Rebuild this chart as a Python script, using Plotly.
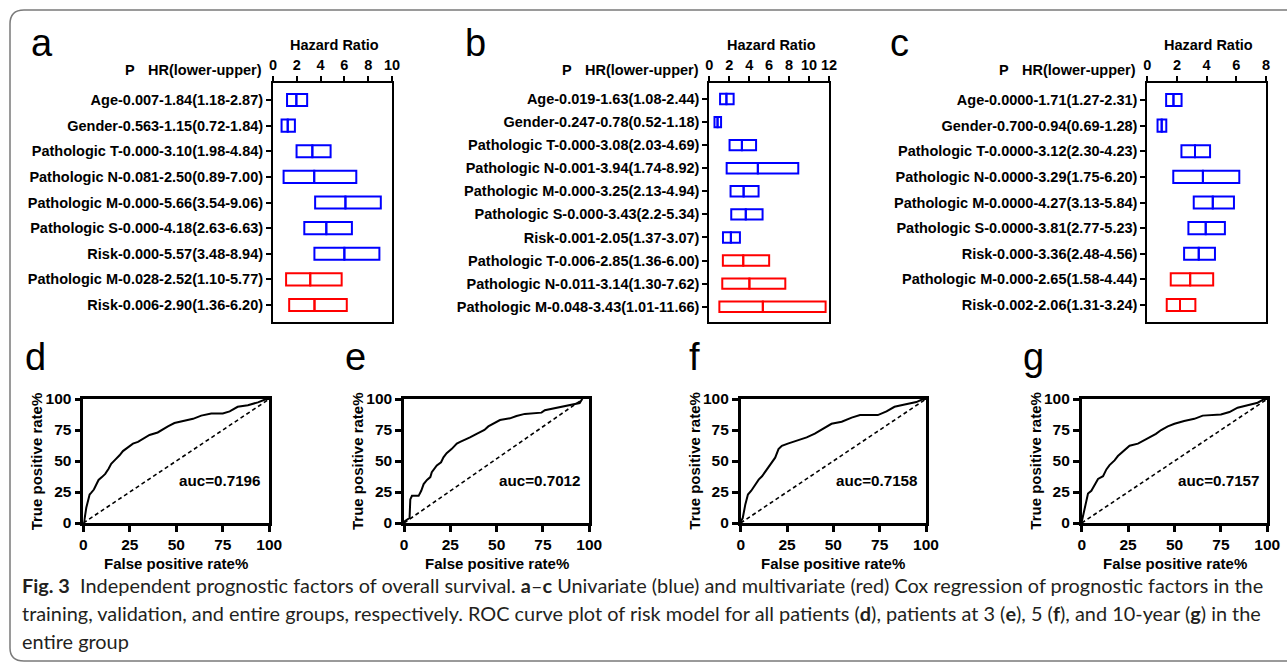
import plotly.graph_objects as go

W, H = 1287, 666
FONT = "Liberation Sans, Arial, sans-serif"
CAP_FONT = "Lato, Noto Sans, sans-serif"
BLUE = "#0000ff"
RED = "#ff0000"

# ---------------- Panel a (training group) ----------------
a_names = ["Age", "Gender", "Pathologic T", "Pathologic N", "Pathologic M",
           "Pathologic S", "Risk", "Pathologic M", "Risk"]
a_p = ["0.007", "0.563", "0.000", "0.081", "0.000", "0.000", "0.000", "0.028", "0.006"]
a_hr = ["1.84", "1.15", "3.10", "2.50", "5.66", "4.18", "5.57", "2.52", "2.90"]
a_lo = ["1.18", "0.72", "1.98", "0.89", "3.54", "2.63", "3.48", "1.10", "1.36"]
a_hi = ["2.87", "1.84", "4.84", "7.00", "9.06", "6.63", "8.94", "5.77", "6.20"]
a_model = ["uni", "uni", "uni", "uni", "uni", "uni", "uni", "multi", "multi"]

# ---------------- Panel b (validation group) ----------------
b_names = ["Age", "Gender", "Pathologic T", "Pathologic N", "Pathologic M",
           "Pathologic S", "Risk", "Pathologic T", "Pathologic N", "Pathologic M"]
b_p = ["0.019", "0.247", "0.000", "0.001", "0.000", "0.000", "0.001", "0.006", "0.011", "0.048"]
b_hr = ["1.63", "0.78", "3.08", "3.94", "3.25", "3.43", "2.05", "2.85", "3.14", "3.43"]
b_lo = ["1.08", "0.52", "2.03", "1.74", "2.13", "2.2", "1.37", "1.36", "1.30", "1.01"]
b_hi = ["2.44", "1.18", "4.69", "8.92", "4.94", "5.34", "3.07", "6.00", "7.62", "11.66"]
b_model = ["uni", "uni", "uni", "uni", "uni", "uni", "uni", "multi", "multi", "multi"]

# ---------------- Panel c (entire group) ----------------
c_names = ["Age", "Gender", "Pathologic T", "Pathologic N", "Pathologic M",
           "Pathologic S", "Risk", "Pathologic M", "Risk"]
c_p = ["0.0000", "0.700", "0.0000", "0.0000", "0.0000", "0.0000", "0.000", "0.000", "0.002"]
c_hr = ["1.71", "0.94", "3.12", "3.29", "4.27", "3.81", "3.36", "2.65", "2.06"]
c_lo = ["1.27", "0.69", "2.30", "1.75", "3.13", "2.77", "2.48", "1.58", "1.31"]
c_hi = ["2.31", "1.28", "4.23", "6.20", "5.84", "5.23", "4.56", "4.44", "3.24"]
c_model = ["uni", "uni", "uni", "uni", "uni", "uni", "uni", "multi", "multi"]

hr_ticks_a = [0, 2, 4, 6, 8, 10]
hr_ticks_b = [0, 2, 4, 6, 8, 10, 12]
hr_ticks_c = [0, 2, 4, 6, 8]

# ---------------- ROC curves (%) ----------------
d_fpr = [0, 0.4, 1.6, 3.4, 4.3, 5.7, 7.0, 8.2, 10.0, 11.8, 13.6, 15.0, 16.8, 18.6, 19.5, 21.3,
         24.0, 26.7, 29.4, 33.0, 35.6, 40.0, 42.8, 45.5, 49.0, 54.5, 59.0, 63.4, 68.8, 75.0,
         78.7, 83.0, 88.5, 93.9, 98.4, 100]
d_tpr = [0, 0.5, 12.3, 23.0, 24.5, 27.0, 31.0, 34.7, 37.0, 39.6, 43.7, 47.8, 50.5, 53.0, 54.6, 58.0,
         61.0, 64.0, 65.4, 68.3, 71.0, 73.0, 75.7, 78.0, 80.6, 82.8, 84.0, 86.6, 88.3, 88.3,
         90.0, 93.7, 95.0, 97.3, 100, 100]

e_fpr = [0, 2.2, 3.0, 3.4, 4.3, 7.9, 9.3, 10.6, 12.4, 14.2, 15.0, 17.7, 20.0, 21.3, 23.0, 25.8,
         28.5, 30.3, 33.0, 35.6, 39.2, 43.4, 45.5, 48.2, 51.8, 57.2, 60.7, 65.2, 74.2, 76.0,
         81.4, 86.8, 90.3, 94.8, 96.2]
e_tpr = [1.0, 3.5, 4.0, 19.0, 21.9, 21.9, 26.0, 31.4, 34.7, 37.0, 41.0, 46.4, 49.0, 53.0, 56.3, 59.8,
         64.0, 65.4, 67.0, 69.0, 71.9, 75.0, 77.9, 80.0, 83.0, 84.4, 86.3, 88.0, 89.0, 91.0,
         92.6, 94.0, 95.4, 96.7, 100]

f_fpr = [0, 1.1, 2.5, 3.9, 5.7, 7.9, 9.7, 11.5, 14.2, 16.8, 18.6, 20.4, 22.2, 25.8, 31.2, 35.6,
         40.0, 44.6, 49.0, 54.5, 59.9, 64.4, 74.0, 78.7, 83.0, 88.5, 94.8, 98.4, 100]
f_tpr = [1.0, 4.0, 15.0, 23.0, 26.0, 31.0, 35.0, 37.7, 43.2, 48.6, 52.7, 59.6, 62.3, 64.2, 67.0, 69.0,
         72.0, 76.0, 80.0, 81.7, 85.0, 87.0, 87.0, 90.0, 93.7, 95.6, 97.5, 100, 100]

g_fpr = [0, 1.6, 3.4, 5.2, 7.0, 8.8, 11.5, 13.3, 15.0, 17.7, 19.5, 22.2, 25.8, 30.3, 34.8, 40.0,
         42.8, 46.4, 50.0, 55.2, 60.7, 65.2, 75.0, 79.6, 84.0, 89.4, 94.8, 98.4, 100]
g_tpr = [0.8, 12.3, 23.8, 26.0, 31.4, 35.5, 37.7, 43.2, 46.7, 50.5, 54.0, 57.6, 62.3, 64.0, 67.7, 71.9,
         75.0, 77.9, 80.0, 82.3, 84.0, 86.6, 87.5, 89.5, 93.0, 95.0, 97.0, 100, 100]

d_diag = [0, 100]
e_diag_x = [0, 96.5]
e_diag_y = [0, 100]
auc_values = ["0.7196", "0.7012", "0.7158", "0.7157"]
roc_ticks = [0, 25, 50, 75, 100]


def xd(x0, x1):
    return [x0 / W, x1 / W]


def yd(y0, y1):
    return [1 - y1 / H, 1 - y0 / H]


def px(x):
    return x / W


def py(y):
    return 1 - y / H


fig = go.Figure()
layout = dict(
    template="none",
    width=W, height=H, autosize=False,
    margin=dict(l=0, r=0, t=0, b=0, pad=0, autoexpand=False),
    paper_bgcolor="white", plot_bgcolor="white",
    showlegend=False, barmode="overlay",
)
annotations = []
shapes = []

forest = [
    # data, x-domain px, ticks, bar width, pad top, pad bottom
    ((a_names, a_p, a_hr, a_lo, a_hi, a_model), (273, 392), hr_ticks_a, 0.47, 0.664, 0.664),
    ((b_names, b_p, b_hr, b_lo, b_hi, b_model), (709.3, 829), hr_ticks_b, 0.45, 0.693, 0.663),
    ((c_names, c_p, c_hr, c_lo, c_hi, c_model), (1147.3, 1266), hr_ticks_c, 0.47, 0.664, 0.664),
]
hr_label_right = [264, 700.7, 1137.7]
p_label_x = [130, 566.7, 1004]
letters_top = [("a", 41.5), ("b", 475), ("c", 899.5)]

for i, (data, (x0, x1), ticks, bw, pt, pb) in enumerate(forest):
    names, ps, hrs, los, his, models = data
    n = len(names)
    labels = [f"{nm}-{p}-{h}({lo}-{hi})" for nm, p, h, lo, hi in zip(names, ps, hrs, los, his)]
    lo_v = [float(v) for v in los]
    hr_v = [float(v) for v in hrs]
    hi_v = [float(v) for v in his]
    mid_v = [(a + b + c) / 3 for a, b, c in zip(lo_v, hr_v, hi_v)]
    cols = [BLUE if m == "uni" else RED for m in models]
    k = "" if i == 0 else str(i + 1)
    xa, ya = "x" + k, "y" + k
    fig.add_trace(go.Bar(
        y=labels, x=[m - l for m, l in zip(mid_v, lo_v)], base=lo_v, orientation="h",
        width=bw, marker=dict(color="rgba(0,0,0,0)", line=dict(color=cols, width=2)),
        xaxis=xa, yaxis=ya, hoverinfo="skip"))
    fig.add_trace(go.Bar(
        y=labels, x=[h - m for h, m in zip(hi_v, mid_v)], base=mid_v, orientation="h",
        width=bw, marker=dict(color="rgba(0,0,0,0)", line=dict(color=cols, width=2)),
        xaxis=xa, yaxis=ya, hoverinfo="skip"))
    layout["xaxis" + k] = dict(
        domain=xd(x0, x1), anchor=ya, side="top", range=[ticks[0], ticks[-1]],
        tickvals=ticks, ticks="outside", ticklen=5, tickwidth=2, tickcolor="black",
        showline=True, linewidth=2, linecolor="black", mirror=True, automargin=False,
        showgrid=False, zeroline=False,
        tickfont=dict(family=FONT, size=14.5, color="black", weight="bold"))
    layout["yaxis" + k] = dict(
        domain=yd(83, 322), anchor=xa, type="category",
        categoryorder="array", categoryarray=labels,
        range=[n - 1 + pb, -pt], automargin=False,
        ticks="outside", ticklen=5, tickwidth=2, tickcolor="black",
        showline=True, linewidth=2, linecolor="black", mirror=True,
        showgrid=False, zeroline=False,
        tickfont=dict(family=FONT, size=14.5, color="black", weight="bold"))
    annotations.append(dict(text="Hazard Ratio", x=px((x0 + x1) / 2 + 2), y=py(45),
                            xref="paper", yref="paper", showarrow=False,
                            xanchor="center", yanchor="middle",
                            font=dict(family=FONT, size=14.5, color="black", weight="bold")))
    annotations.append(dict(text="HR(lower-upper)", x=px(hr_label_right[i]), y=py(70),
                            xref="paper", yref="paper", showarrow=False,
                            xanchor="right", yanchor="middle",
                            font=dict(family=FONT, size=14.5, color="black", weight="bold")))
    annotations.append(dict(text="P", x=px(p_label_x[i]), y=py(70),
                            xref="paper", yref="paper", showarrow=False,
                            xanchor="center", yanchor="middle",
                            font=dict(family=FONT, size=14.5, color="black", weight="bold")))
    lt, lx = letters_top[i]
    annotations.append(dict(text=lt, x=px(lx), y=py(43), xref="paper", yref="paper",
                            showarrow=False, xanchor="center", yanchor="middle",
                            font=dict(family=FONT, size=38, color="black")))

roc = [
    (d_fpr, d_tpr, d_diag, d_diag, (83.3, 269.3), "d", 35.5),
    (e_fpr, e_tpr, e_diag_x, e_diag_y, (404, 589.3), "e", 355.5),
    (f_fpr, f_tpr, d_diag, d_diag, (740.7, 926), "f", 694),
    (g_fpr, g_tpr, d_diag, d_diag, (1081.7, 1267.3), "g", 1033),
]
auc_cx = [220.2, 540.3, 877.5, 1218.5]

for j, (fx, ty, dx, dy, (x0, x1), letter, lx) in enumerate(roc):
    k = str(j + 4)
    xa, ya = "x" + k, "y" + k
    fig.add_trace(go.Scatter(x=dx, y=dy, mode="lines", xaxis=xa, yaxis=ya,
                             line=dict(color="black", width=1.6, dash="4px,3px"),
                             hoverinfo="skip"))
    fig.add_trace(go.Scatter(x=fx, y=ty, mode="lines", xaxis=xa, yaxis=ya,
                             line=dict(color="black", width=2), hoverinfo="skip"))
    common = dict(range=[0, 100], tickvals=roc_ticks, ticks="outside", ticklen=6,
                  tickwidth=2.5, tickcolor="black", showline=True, linewidth=2.5,
                  linecolor="black", mirror=True, showgrid=False, zeroline=False,
                  automargin=False,
                  tickfont=dict(family=FONT, size=15.5, color="black", weight="bold"))
    layout["xaxis" + k] = dict(domain=xd(x0, x1), anchor=ya, **common)
    layout["yaxis" + k] = dict(domain=yd(399, 523), anchor=xa, **common)
    annotations.append(dict(text="False positive rate%", x=px((x0 + x1) / 2), y=py(563),
                            xref="paper", yref="paper", showarrow=False,
                            xanchor="center", yanchor="middle",
                            font=dict(family=FONT, size=15, color="black", weight="bold")))
    annotations.append(dict(text="True positive rate%", x=px(x0 - 47), y=py(461),
                            xref="paper", yref="paper", showarrow=False, textangle=-90,
                            xanchor="center", yanchor="middle",
                            font=dict(family=FONT, size=15, color="black", weight="bold")))
    annotations.append(dict(text="auc=" + auc_values[j], x=px(auc_cx[j]), y=py(480),
                            xref="paper", yref="paper", showarrow=False,
                            xanchor="center", yanchor="middle",
                            font=dict(family=FONT, size=15.2, color="black", weight="bold")))
    annotations.append(dict(text=letter, x=px(lx), y=py(357), xref="paper", yref="paper",
                            showarrow=False, xanchor="center", yanchor="middle",
                            font=dict(family=FONT, size=38, color="black")))

caption_lines = [
    "<b>Fig. 3</b>  Independent prognostic factors of overall survival. <b>a</b>–<b>c</b> "
    "Univariate (blue) and multivariate (red) Cox regression of prognostic factors in the",
    "training, validation, and entire groups, respectively. ROC curve plot of risk model for all "
    "patients (<b>d</b>), patients at 3 (<b>e</b>), 5 (<b>f</b>), and 10-year (<b>g</b>) in the",
    "entire group",
]
for li, (line, yy) in enumerate(zip(caption_lines, [585, 613, 641])):
    annotations.append(dict(text=line, x=px(20), y=py(yy), xref="paper", yref="paper",
                            showarrow=False, xanchor="left", yanchor="middle",
                            font=dict(family=CAP_FONT, size=19.9, color="#231f20")))

# rounded frame around the figure
shapes.append(dict(
    type="path", xref="paper", yref="paper",
    path=(f"M {px(1300)},{py(10)} L {px(24)},{py(10)} Q {px(10)},{py(10)} {px(10)},{py(24)} "
          f"L {px(10)},{py(648)} Q {px(10)},{py(661)} {px(24)},{py(661)} L {px(1300)},{py(661)}"),
    line=dict(color="#7a7a7a", width=1.5)))

layout["annotations"] = annotations
layout["shapes"] = shapes
fig.update_layout(**layout)
fig.write_html(
    "out.html",
    config={"displayModeBar": False},
    post_script="document.body.style.margin='0px';document.body.style.padding='0px';"
                "document.body.style.overflow='hidden';",
)
